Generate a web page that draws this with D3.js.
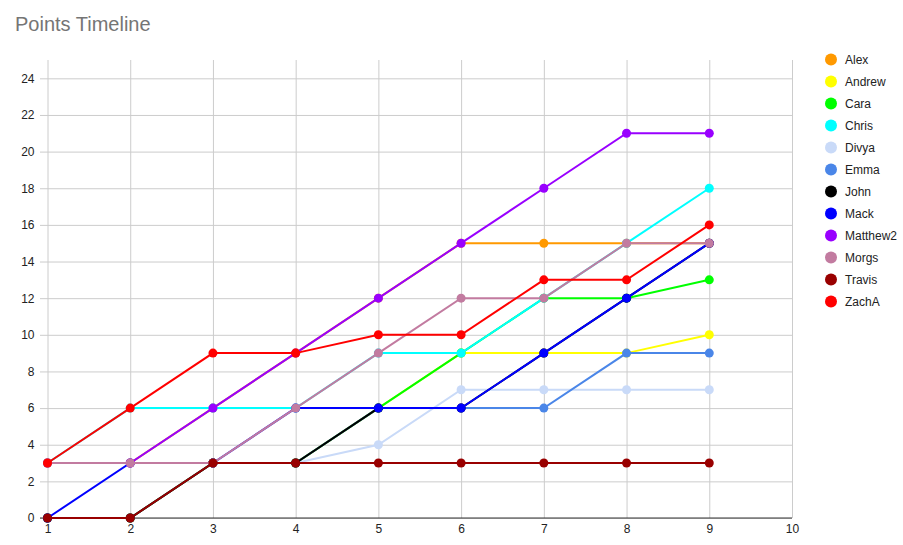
<!DOCTYPE html>
<html>
<head>
<meta charset="utf-8">
<script src="https://cdn.jsdelivr.net/npm/d3@7"></script>
<style>
  body { margin: 0; background: #fff; }
  svg { font-family: Arial, "Liberation Sans", sans-serif; }
</style>
</head>
<body>
<div id="chart"></div>
<script>
// rounds along the x axis
const rounds = [1, 2, 3, 4, 5, 6, 7, 8, 9];

// points per player, one value per round
const alex     = [3, 3, 6, 9, 12, 15, 15, 15, 15];
const andrew   = [0, 0, 3, 3, 6, 9, 9, 9, 10];
const cara     = [0, 0, 3, 3, 6, 9, 12, 12, 13];
const chris    = [3, 6, 6, 6, 9, 9, 12, 15, 18];
const divya    = [0, 0, 3, 3, 4, 7, 7, 7, 7];
const emma     = [0, 0, 3, 3, 6, 6, 6, 9, 9];
const john     = [0, 0, 3, 3, 6, 6, 9, 12, 15];
const mack     = [0, 3, 3, 6, 6, 6, 9, 12, 15];
const matthew2 = [3, 3, 6, 9, 12, 15, 18, 21, 21];
const morgs    = [3, 3, 3, 6, 9, 12, 12, 15, 15];
const travis   = [0, 0, 3, 3, 3, 3, 3, 3, 3];
const zachA    = [3, 6, 9, 9, 10, 10, 13, 13, 16];

const players = ["Alex", "Andrew", "Cara", "Chris", "Divya", "Emma", "John", "Mack", "Matthew2", "Morgs", "Travis", "ZachA"];
const values = [alex, andrew, cara, chris, divya, emma, john, mack, matthew2, morgs, travis, zachA];
const colors = ["#ff9900", "#ffff00", "#00ff00", "#00ffff", "#c9daf8", "#4a86e8", "#000000", "#0000ff", "#9900ff", "#c27ba0", "#990000", "#ff0000"];

const yTicks = [0, 2, 4, 6, 8, 10, 12, 14, 16, 18, 20, 22, 24];
const xTicks = [1, 2, 3, 4, 5, 6, 7, 8, 9, 10];

const width = 903, height = 545;
const margin = {top: 60, right: 111, bottom: 27, left: 47.5};

const svg = d3.select("#chart").append("svg")
    .attr("width", width)
    .attr("height", height);

svg.append("text")
    .attr("x", 15)
    .attr("y", 31)
    .attr("fill", "#757575")
    .attr("font-size", 20)
    .text("Points Timeline");

const x = d3.scaleLinear()
    .domain([1, 10])
    .range([margin.left, width - margin.right]);

const y = d3.scaleLinear()
    .domain([0, 25])
    .range([height - margin.bottom, margin.top]);

// horizontal grid + y labels
const yAxis = svg.append("g")
    .attr("transform", `translate(${margin.left},0)`)
    .call(d3.axisLeft(y).tickValues(yTicks).tickSize(-(x.range()[1] - margin.left) ).tickSizeOuter(0).tickPadding(13));
yAxis.select(".domain").remove();
yAxis.selectAll(".tick line")
    .attr("stroke", "#cccccc")
    .attr("x1", -7.5);
yAxis.selectAll(".tick text")
    .attr("fill", "#222")
    .attr("font-size", 12)
    .attr("font-family", "Arial, 'Liberation Sans', sans-serif");

// vertical grid + x labels
const xAxis = svg.append("g")
    .attr("transform", `translate(0,${y(0)})`)
    .call(d3.axisBottom(x).tickValues(xTicks).tickSize(-(y(0) - margin.top)).tickSizeOuter(0).tickPadding(6));
xAxis.select(".domain").remove();
xAxis.selectAll(".tick line").attr("stroke", "#cccccc");
xAxis.selectAll(".tick text")
    .attr("fill", "#222")
    .attr("font-size", 12)
    .attr("font-family", "Arial, 'Liberation Sans', sans-serif");

// baseline
svg.append("line")
    .attr("x1", margin.left - 7.5)
    .attr("x2", x(10))
    .attr("y1", y(0))
    .attr("y2", y(0))
    .attr("stroke", "#333")
    .attr("stroke-width", 1);

const line = d3.line()
    .x((d, i) => x(rounds[i]))
    .y(d => y(d));

const series = svg.append("g").selectAll("g")
    .data(values)
    .join("g");

series.append("path")
    .attr("d", d => line(d))
    .attr("fill", "none")
    .attr("stroke", (d, i) => colors[i])
    .attr("stroke-width", 2);

series.selectAll("circle")
    .data((d, i) => d.map(v => ({v, c: colors[i]})))
    .join("circle")
    .attr("cx", (d, i) => x(rounds[i]))
    .attr("cy", d => y(d.v))
    .attr("r", 4.5)
    .attr("fill", d => d.c);

// legend
const legend = svg.append("g").selectAll("g")
    .data(players)
    .join("g")
    .attr("transform", (d, i) => `translate(831,${59.5 + i * 22})`);

legend.append("circle")
    .attr("r", 6)
    .attr("fill", (d, i) => colors[i]);

legend.append("text")
    .attr("x", 14)
    .attr("dy", "0.35em")
    .attr("font-size", 12)
    .attr("fill", "#222")
    .text(d => d);
</script>
</body>
</html>
